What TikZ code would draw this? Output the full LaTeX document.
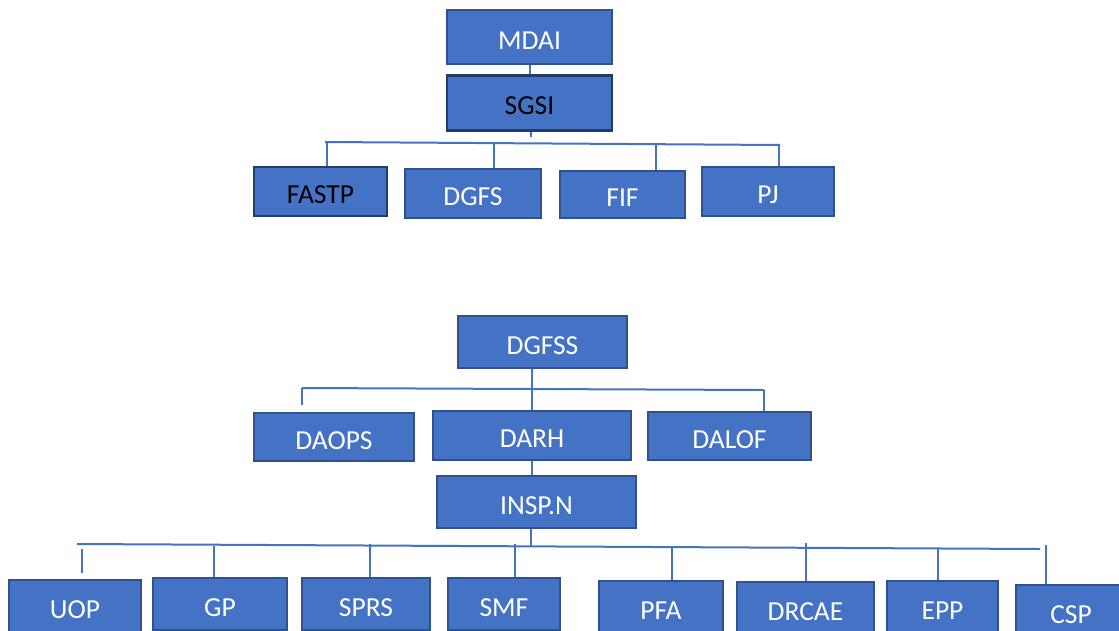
\documentclass[tikz,border=0pt]{standalone}
\usepackage{fontspec}
\setmainfont{Carlito}
\usetikzlibrary{
  positioning
}
\definecolor{unitblue}{HTML}{4472C4}
\definecolor{unitedge}{HTML}{2F528F}
\tikzset{
  node distance = 9pt and 18pt,
  unit/.style 2 args = {draw=unitedge, line width=2pt, fill=unitblue,
    text=white, inner sep=0pt, minimum width=#1, minimum height=#2,
    text height=24pt, text depth=0pt,
    font=\fontsize{27.5}{30}\selectfont},
  head/.style = {text=black, draw=unitedge!75!black, line width=2.6pt},
  link/.style = {draw=unitblue, line width=2pt},
}

\begin{document}
\begin{tikzpicture}[x=1pt, y=-1pt]
  \clip (0,0) rectangle (1119,630);
  \fill[white] (0,0) rectangle (1119,630);

  % upper chart
  \node[unit={165pt}{54pt}] (mdai) at (529.5,37) {MDAI};
  \node[unit={165pt}{55pt}, head, below=of mdai] (sgsi) {SGSI};
  \node[unit={133pt}{49pt}, head] (fastp) at (320.5,191.5) {FASTP};
  \node[unit={136pt}{49pt}] (dgfs) at (473,193.5) {DGFS};
  \node[unit={125pt}{47pt}] (fif) at (622.5,194.5) {FIF};
  \node[unit={132pt}{49pt}] (pj) at (768,191.5) {PJ};

  \coordinate (top stem) at (531,137);
  \coordinate (top left) at (325,142);
  \coordinate (top right) at (780,145);
  \draw[link] (mdai) -- (sgsi);
  \draw[link] (sgsi.south -| top stem) -- (top stem);
  \draw[link] (top left) -- (top right);
  \foreach \n/\x/\y in {fastp/327/142, dgfs/494/143, fif/656/144, pj/779/145}{
    \coordinate (drop) at (\x,\y);
    \draw[link] (drop) -- (drop |- \n.north);
  }

  % lower chart
  \node[unit={169pt}{52pt}] (dgfss) at (542.5,342) {DGFSS};
  \node[unit={160pt}{48pt}] (daops) at (334,437) {DAOPS};
  \node[unit={198pt}{49pt}] (darh) at (532,435.5) {DARH};
  \node[unit={163pt}{48pt}] (dalof) at (729.5,436) {DALOF};
  \node[unit={199pt}{52pt}] (insp) at (536.5,502) {INSP.N};

  \coordinate (mid left) at (302,388);
  \coordinate (mid right) at (764,390);
  \coordinate (daops end) at (302,405);
  \draw[link] (darh.north) -- (darh.north |- dgfss.south);
  \draw[link] (mid left) -- (mid right);
  \draw[link] (mid left) -- (daops end);
  \draw[link] (mid right) -- (mid right |- dalof.north);
  \draw[link] (darh.south) -- (darh.south |- insp.north);

  \node[unit={132pt}{52pt}] (uop) at (75,606) {UOP};
  \node[unit={134pt}{52pt}] (gp) at (220,604) {GP};
  \node[unit={128pt}{52pt}] (sprs) at (366,604) {SPRS};
  \node[unit={112pt}{52pt}] (smf) at (504,604) {SMF};
  \node[unit={124pt}{52pt}] (pfa) at (661,607) {PFA};
  \node[unit={137pt}{52pt}] (drcae) at (805.5,608) {DRCAE};
  \node[unit={111pt}{52pt}] (epp) at (942.5,607) {EPP};
  \node[unit={110pt}{52pt}] (csp) at (1071,611) {CSP};

  \coordinate (low stem) at (531,547);
  \coordinate (low left) at (77,544);
  \coordinate (low right) at (1040,549);
  \coordinate (uop top) at (82,549);
  \coordinate (uop end) at (82,573);
  \draw[link] (insp.south -| low stem) -- (low stem);
  \draw[link] (low left) -- (low right);
  \draw[link] (uop top) -- (uop end);
  \foreach \n/\x/\y in {gp/214/546, sprs/370/544, smf/515/544, pfa/672/548,
      drcae/806/543, epp/938/548, csp/1046/545}{
    \coordinate (drop) at (\x,\y);
    \draw[link] (drop) -- (drop |- \n.north);
  }
\end{tikzpicture}
\end{document}
